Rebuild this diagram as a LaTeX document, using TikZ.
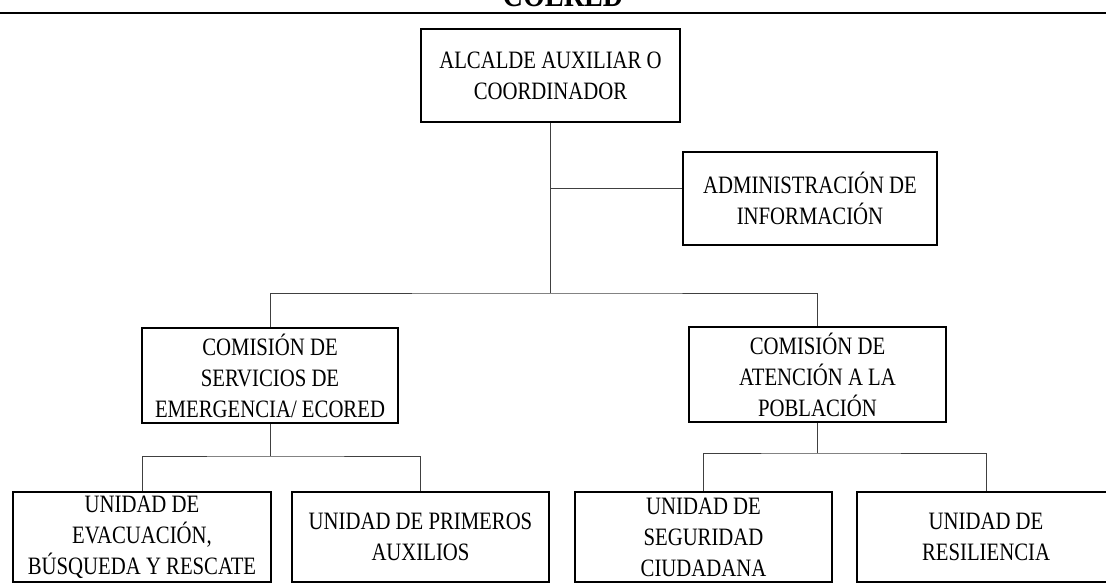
\documentclass[tikz,border=0pt]{standalone}
\usepackage{fontspec}
\setmainfont[FakeStretch=0.83]{Liberation Serif}

\begin{document}
\begin{tikzpicture}[x=1pt, y=-1pt,
                    block/.style={rectangle, draw, line width=1.5pt, align=center, inner sep=0pt,
                                  font=\fontsize{25}{31}\selectfont},
                    link/.style={draw, line width=0.9pt, black!75}]
  \useasboundingbox (0,0) rectangle (1106,582);
  \clip (0,0) rectangle (1106,582);
  % title, cut at the top
  \node[anchor=base, inner sep=0pt, font=\fontsize{34}{34}\selectfont\bfseries] (title) at (563,6) {COLRED};
  \draw[line width=1.6pt] (0,13) -- (1106,13);
  % boxes
  \node[block, minimum width=259, minimum height=93] (alcalde) at (550.5,75.5) {ALCALDE AUXILIAR O\\COORDINADOR};
  \node[block, minimum width=254, minimum height=93] (admin) at (810,198.5) {ADMINISTRACIÓN DE\\INFORMACIÓN};
  \node[block, minimum width=256, minimum height=95] (emerg) at (270,375.5) {COMISIÓN DE\\SERVICIOS DE\\EMERGENCIA/ ECORED};
  \node[block, minimum width=257, minimum height=95] (pobl) at (817.5,374.5) {COMISIÓN DE\\ATENCIÓN A LA\\POBLACIÓN};
  \node[block, minimum width=258, minimum height=90] (evac) at (142,537) {UNIDAD DE\\EVACUACIÓN,\\BÚSQUEDA Y RESCATE};
  \node[block, minimum width=257, minimum height=90] (prim) at (420.5,537) {UNIDAD DE PRIMEROS\\AUXILIOS};
  \node[block, minimum width=257, minimum height=90] (segu) at (703.5,537) {UNIDAD DE\\SEGURIDAD\\CIUDADANA};
  \node[block, minimum width=258, minimum height=90] (resil) at (986,537) {UNIDAD DE\\RESILIENCIA};
  % connectors
  \coordinate (infotap) at (550.5,188);
  \coordinate (bus) at (550.5,293);
  \coordinate (emergbus) at (270,456);
  \coordinate (poblbus) at (817.5,453);
  \draw[link] (alcalde) -- (bus);
  \draw[link] (infotap) -- (infotap -| admin.west);
  \draw[link] (emerg.north) |- (bus) -| (pobl.north);
  \draw[link] (emerg) -- (emergbus);
  \draw[link] (evac.north) |- (emergbus) -| (prim.north);
  \draw[link] (pobl) -- (poblbus);
  \draw[link] (segu.north) |- (poblbus) -| (resil.north);
\end{tikzpicture}
\end{document}
